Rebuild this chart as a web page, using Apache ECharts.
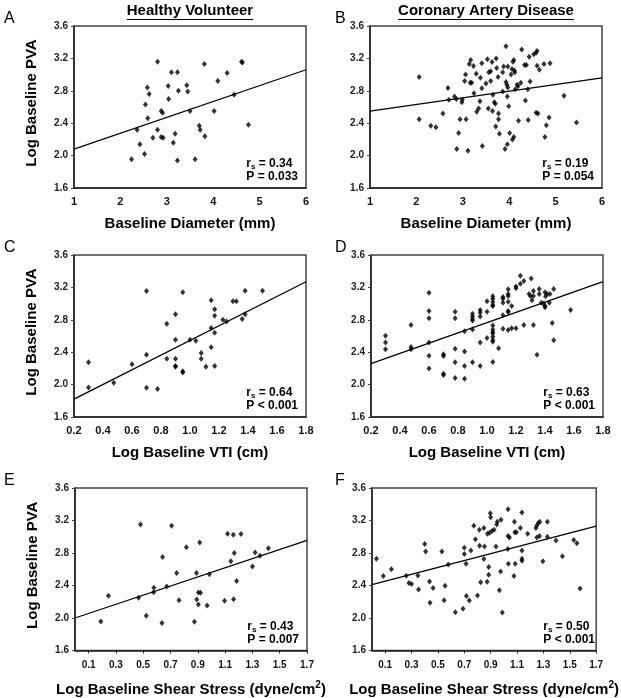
<!DOCTYPE html>
<html><head><meta charset="utf-8">
<script src="https://cdn.jsdelivr.net/npm/echarts@6/dist/echarts.min.js"></script>
<style>html,body{margin:0;padding:0;background:#fff}#c{width:621px;height:698px}</style>
</head><body><div id="c"></div>
<script>
// ---------- data ----------
const colTitles = ['Healthy Volunteer', 'Coronary Artery Disease'];
const panelLetters = ['A', 'B', 'C', 'D', 'E', 'F'];
const yAxisTitle = 'Log Baseline PVA';
const xAxisTitles = ['Baseline Diameter (mm)', 'Log Baseline VTI (cm)', 'Log Baseline Shear Stress (dyne/cm'];
const yTicks = { min: 1.6, max: 3.6, step: 0.4 };
const diamTicks = { min: 1, max: 6, step: 1 };
const vtiTicks = { min: 0.2, max: 1.8, step: 0.2 };
const shearRange = { min: 0, max: 1.7 };
const shearTickLabels = [0.1, 0.3, 0.5, 0.7, 0.9, 1.1, 1.3, 1.5, 1.7];
const rsValues = ['0.34', '0.19', '0.64', '0.63', '0.43', '0.50'];
const pValues = ['P = 0.033', 'P = 0.054', 'P < 0.001', 'P < 0.001', 'P = 0.007', 'P < 0.001'];

const pointsA = [[2.80,3.16],[3.10,3.03],[3.23,3.03],[3.81,3.13],[4.61,3.16],[4.63,3.15],[4.30,3.02],[4.10,2.92],[2.58,2.84],[2.62,2.76],[3.03,2.86],[3.43,2.87],[3.25,2.80],[3.45,2.79],[3.04,2.70],[4.45,2.75],[2.54,2.63],[2.88,2.55],[2.91,2.53],[3.50,2.55],[4.02,2.55],[2.59,2.46],[2.36,2.32],[2.80,2.32],[3.70,2.37],[3.72,2.32],[4.76,2.38],[3.18,2.27],[2.70,2.22],[2.88,2.23],[2.92,2.22],[3.82,2.24],[3.14,2.16],[2.42,2.14],[2.52,2.02],[2.24,1.955],[3.23,1.94],[3.61,1.955]];
const lineA = [[1, 2.08], [6, 3.06]];

const pointsB = [[3.93,3.35],[4.27,3.31],[4.60,3.29],[4.58,3.27],[4.53,3.25],[4.43,3.22],[3.17,3.18],[3.53,3.19],[3.72,3.20],[4.10,3.18],[4.08,3.16],[3.14,3.13],[3.41,3.14],[3.63,3.155],[3.23,3.105],[3.88,3.10],[3.97,3.10],[4.33,3.12],[4.37,3.12],[4.75,3.13],[4.88,3.14],[4.60,3.11],[4.65,3.06],[3.73,3.08],[3.56,3.03],[3.60,3.04],[4.06,3.07],[4.11,3.05],[4.12,3.03],[3.29,3.01],[3.86,3.03],[3.06,3.00],[2.06,2.97],[4.04,3.00],[3.76,2.97],[3.38,2.96],[3.04,2.92],[3.16,2.90],[3.19,2.90],[3.60,2.92],[3.50,2.89],[3.93,2.91],[3.95,2.875],[4.25,2.90],[4.45,2.915],[4.17,2.875],[4.19,2.855],[3.41,2.83],[3.97,2.84],[4.13,2.82],[4.40,2.82],[2.68,2.835],[3.86,2.79],[3.24,2.77],[3.65,2.75],[2.82,2.73],[2.86,2.70],[3.96,2.73],[5.18,2.74],[2.70,2.69],[2.99,2.69],[2.98,2.66],[3.37,2.67],[4.35,2.68],[3.68,2.66],[3.70,2.64],[3.99,2.61],[3.34,2.58],[3.30,2.54],[3.55,2.58],[3.64,2.55],[2.57,2.52],[3.77,2.52],[4.58,2.53],[4.62,2.52],[2.06,2.45],[2.94,2.45],[3.07,2.45],[3.77,2.45],[4.20,2.43],[4.41,2.44],[4.86,2.47],[5.45,2.41],[2.31,2.37],[2.42,2.35],[3.71,2.36],[4.80,2.375],[2.91,2.28],[3.79,2.27],[4.01,2.28],[4.10,2.23],[4.07,2.20],[4.77,2.23],[3.42,2.12],[3.96,2.14],[3.91,2.08],[2.87,2.08],[3.11,2.06]];
const lineB = [[1, 2.55], [6, 2.96]];

const pointsC = [[0.70,3.156],[0.95,3.14],[1.38,3.16],[1.50,3.16],[1.146,3.04],[1.296,3.03],[1.32,3.03],[1.17,2.93],[0.90,2.87],[1.17,2.85],[1.38,2.87],[1.227,2.80],[1.252,2.78],[1.36,2.81],[0.84,2.75],[1.146,2.70],[1.17,2.64],[0.90,2.555],[1.00,2.555],[1.04,2.54],[1.146,2.46],[0.30,2.275],[0.70,2.37],[1.077,2.39],[0.60,2.25],[0.84,2.32],[0.90,2.32],[1.077,2.32],[0.90,2.23],[0.90,2.22],[1.11,2.22],[1.17,2.23],[0.95,2.165],[0.95,2.15],[0.474,2.024],[0.30,1.965],[0.70,1.96],[0.776,1.945]];
const lineC = [[0.2, 1.82], [1.8, 3.27]];

const pointsD = [[1.23,3.345],[1.305,3.31],[1.254,3.28],[1.23,3.246],[1.20,3.21],[1.20,3.19],[1.146,3.176],[1.146,3.12],[1.146,3.094],[1.146,3.024],[1.11,3.08],[1.11,3.06],[1.11,3.01],[1.17,2.97],[1.146,2.91],[1.146,2.896],[1.29,3.12],[1.30,3.094],[1.31,3.04],[1.32,3.155],[1.32,3.094],[1.36,3.18],[1.36,3.12],[1.40,3.14],[1.415,3.12],[1.434,3.12],[1.404,3.09],[1.46,3.18],[1.374,3.01],[1.39,3.00],[1.40,2.975],[1.40,2.954],[1.43,3.01],[1.04,3.09],[1.04,3.06],[1.04,3.02],[1.04,2.98],[1.04,2.97],[1.00,3.03],[0.953,2.92],[0.953,2.89],[0.953,2.84],[0.90,2.876],[0.90,2.84],[0.90,2.81],[0.90,2.79],[1.00,2.90],[1.11,2.855],[0.60,3.135],[0.60,2.91],[0.60,2.82],[0.78,2.90],[0.78,2.82],[0.476,2.736],[0.845,2.66],[0.90,2.68],[1.04,2.73],[1.04,2.68],[1.04,2.65],[1.04,2.63],[1.04,2.59],[1.04,2.55],[1.04,2.53],[1.00,2.575],[1.11,2.69],[1.146,2.675],[1.17,2.695],[1.20,2.695],[1.254,2.736],[1.32,2.736],[1.45,2.76],[1.577,2.92],[1.46,2.546],[0.953,2.52],[1.08,2.45],[1.345,2.37],[0.30,2.604],[0.30,2.52],[0.30,2.435],[0.476,2.465],[0.476,2.435],[0.60,2.52],[0.60,2.357],[0.60,2.20],[0.70,2.374],[0.70,2.354],[0.78,2.444],[0.845,2.41],[0.78,2.275],[0.90,2.275],[0.953,2.23],[0.845,2.23],[1.04,2.28],[0.70,2.135],[0.70,2.12],[0.78,2.08],[0.845,2.073]];
const lineD = [[0.2, 2.26], [1.8, 3.27]];

const pointsE = [[0.48,3.152],[0.708,3.136],[1.118,3.037],[1.16,3.025],[1.216,3.033],[0.914,2.93],[0.816,2.87],[0.642,2.75],[1.167,2.80],[1.32,2.807],[1.417,2.857],[1.355,2.766],[1.142,2.70],[1.30,2.635],[0.745,2.553],[0.89,2.553],[0.985,2.54],[1.184,2.454],[0.245,2.273],[0.578,2.372],[0.672,2.388],[0.576,2.318],[0.466,2.25],[0.762,2.22],[0.904,2.314],[0.92,2.31],[0.892,2.228],[0.904,2.167],[0.968,2.155],[1.096,2.212],[1.162,2.232],[0.522,2.027],[0.189,1.957],[0.637,1.94],[0.875,1.953]];
const lineE = [[0, 2.0], [1.7, 2.955]];

const pointsF = [[1.032,3.34],[0.897,3.29],[0.90,3.24],[1.137,3.30],[0.978,3.21],[0.95,3.185],[0.946,3.15],[1.08,3.185],[1.262,3.17],[1.272,3.185],[1.33,3.185],[0.772,3.136],[1.25,3.14],[1.243,3.107],[0.848,3.107],[0.814,3.087],[0.926,3.087],[0.91,3.07],[0.892,3.05],[0.875,3.037],[1.125,3.107],[1.095,3.054],[1.083,3.054],[1.18,3.037],[1.032,3.01],[1.042,2.99],[1.25,2.99],[1.27,3.01],[1.33,3.0],[0.784,2.97],[1.395,2.955],[1.53,2.96],[1.554,2.92],[0.40,2.91],[0.407,2.82],[0.53,2.82],[0.70,2.865],[0.816,2.89],[0.853,2.88],[0.94,2.88],[0.75,2.83],[0.70,2.787],[1.03,2.85],[1.137,2.83],[1.137,2.73],[1.137,2.705],[0.034,2.73],[0.848,2.725],[1.444,2.76],[1.296,2.697],[0.578,2.66],[0.713,2.668],[1.034,2.668],[1.086,2.668],[0.147,2.60],[0.885,2.627],[0.975,2.573],[0.885,2.532],[0.086,2.516],[0.26,2.52],[0.348,2.524],[1.076,2.516],[0.28,2.43],[0.30,2.42],[0.436,2.45],[0.824,2.44],[0.873,2.446],[0.353,2.35],[0.463,2.368],[0.554,2.397],[0.966,2.343],[1.578,2.364],[0.716,2.27],[0.80,2.277],[0.44,2.187],[0.547,2.22],[0.738,2.216],[0.69,2.113],[0.632,2.072],[0.988,2.068]];
const lineF = [[0, 2.41], [1.7, 3.13]];

// ---------- layout / style ----------
const FONT = 'Liberation Sans, Arial, Helvetica, sans-serif';
const grids = [
  { left: 74, top: 26, width: 232, height: 162 },
  { left: 370, top: 26, width: 232, height: 162 },
  { left: 74, top: 255, width: 232, height: 162 },
  { left: 371, top: 255, width: 232, height: 162 },
  { left: 75, top: 488, width: 232, height: 163 },
  { left: 372, top: 488, width: 231, height: 163 }
];
const allPoints = [pointsA, pointsB, pointsC, pointsD, pointsE, pointsF];
const allLines = [lineA, lineB, lineC, lineD, lineE, lineF];

const option = {
  animation: false,
  backgroundColor: '#fff',
  textStyle: { fontFamily: FONT },
  grid: [], xAxis: [], yAxis: [], series: [], graphic: []
};

grids.forEach((g, i) => {
  option.grid.push(Object.assign({ show: true, borderColor: '#444', borderWidth: 1.5, backgroundColor: 'transparent' }, g));
  const row = Math.floor(i / 2);
  const axLine = { show: true, lineStyle: { color: '#222', width: 1.5 } };
  let xa = {
    type: 'value', gridIndex: i, splitLine: { show: false },
    axisLine: axLine,
    axisLabel: { color: '#111', fontWeight: 'bold', fontSize: 11, margin: 8, fontFamily: FONT },
    name: xAxisTitles[row], nameLocation: 'middle', nameGap: 28,
    nameTextStyle: { fontSize: 15, fontWeight: 'bold', color: '#000', fontFamily: FONT }
  };
  if (row === 0) {
    Object.assign(xa, { min: diamTicks.min, max: diamTicks.max, interval: diamTicks.step,
      axisTick: { show: false } });
  } else if (row === 1) {
    Object.assign(xa, { min: vtiTicks.min, max: vtiTicks.max, interval: vtiTicks.step,
      axisTick: { show: false } });
    xa.axisLabel.formatter = v => v.toFixed(1);
  } else {
    Object.assign(xa, { min: shearRange.min, max: shearRange.max,
      axisTick: { show: true, inside: false, length: 3, customValues: shearTickLabels, lineStyle: { color: '#222' } } });
    xa.axisLabel = Object.assign(xa.axisLabel, { customValues: shearTickLabels, fontSize: 10, margin: 10, formatter: v => v.toFixed(1) });
    xa.name = '{a|' + xAxisTitles[2] + '}{s|2}{a|)}';
    xa.nameGap = 30;
    xa.nameTextStyle = { rich: {
      a: { fontSize: 15, fontWeight: 'bold', color: '#000', fontFamily: FONT, lineHeight: 18 },
      s: { fontSize: 10, fontWeight: 'bold', color: '#000', fontFamily: FONT, verticalAlign: 'top', lineHeight: 18 }
    } };
  }
  option.xAxis.push(xa);

  const ya = {
    type: 'value', gridIndex: i, min: yTicks.min, max: yTicks.max, interval: yTicks.step,
    splitLine: { show: false }, axisLine: axLine,
    axisTick: { show: true, length: 3, lineStyle: { color: '#444' } },
    axisLabel: { color: '#222', fontSize: 10, fontWeight: 'bold', margin: 6, formatter: v => v.toFixed(1), fontFamily: FONT }
  };
  if (i % 2 === 0) {
    Object.assign(ya, { name: yAxisTitle, nameLocation: 'middle', nameGap: 35, nameRotate: 90,
      nameTextStyle: { fontSize: 15, fontWeight: 'bold', color: '#000', fontFamily: FONT, padding: [0, 0, 0, 8] } });
  }
  option.yAxis.push(ya);

  option.series.push({
    type: 'scatter', xAxisIndex: i, yAxisIndex: i, data: allPoints[i],
    symbol: 'diamond', symbolSize: [5, 6], itemStyle: { color: '#000' }
  });
  option.series.push({
    type: 'line', xAxisIndex: i, yAxisIndex: i, data: allLines[i],
    symbol: 'none', lineStyle: { color: '#000', width: 1.3 }, clip: false
  });

  // panel letter
  option.graphic.push({ type: 'text', left: (i % 2 === 0) ? 4 : 335, top: g.top - 15,
    style: { text: panelLetters[i], fontSize: 16, fontFamily: FONT, fill: '#000' } });
  // stats
  option.graphic.push({ type: 'text', right: 621 - (g.left + g.width) + 8, top: g.top + g.height - 30,
    style: { text: '{r|r}{s|s}{r| = ' + rsValues[i] + '}\n{r|' + pValues[i] + '}',
      rich: { r: { fontSize: 12, fontWeight: 'bold', fontFamily: FONT, fill: '#000', lineHeight: 13 },
              s: { fontSize: 8, fontWeight: 'bold', fontFamily: FONT, fill: '#000', verticalAlign: 'bottom', lineHeight: 13 } },
      align: 'left' } });
});

// column titles with underline
const measure = (t) => { const c = document.createElement('canvas').getContext('2d'); c.font = 'bold 15px ' + FONT; return c.measureText(t).width; };
[[190, colTitles[0]], [486, colTitles[1]]].forEach(([cx, t]) => {
  const w = measure(t);
  option.graphic.push({ type: 'text', x: cx, y: 3, style: { text: t, fontSize: 15, fontWeight: 'bold', fontFamily: FONT, fill: '#000', align: 'center', verticalAlign: 'top' } });
  option.graphic.push({ type: 'line', shape: { x1: cx - w / 2, y1: 19.5, x2: cx + w / 2, y2: 19.5 }, style: { stroke: '#000', lineWidth: 1.2 } });
});

const chart = echarts.init(document.getElementById('c'), null, { renderer: 'canvas' });
chart.setOption(option);
</script></body></html>
